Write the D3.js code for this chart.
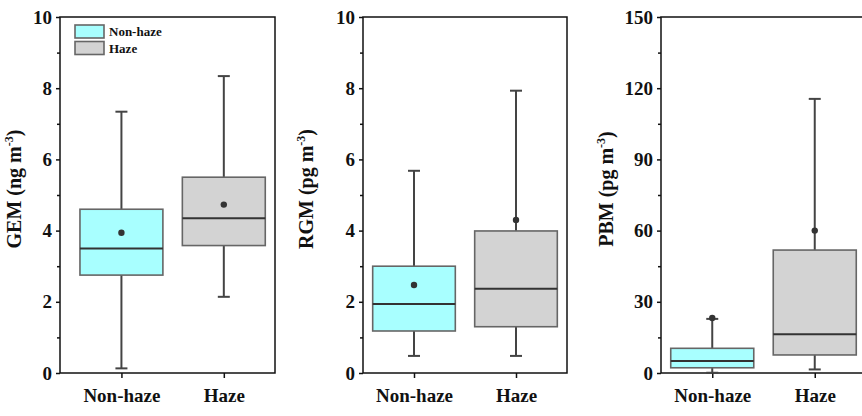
<!DOCTYPE html>
<html>
<head>
<meta charset="utf-8">
<script src="https://cdn.jsdelivr.net/npm/d3@7"></script>
<style>
  body { margin: 0; background: #fff; }
  svg text { font-family: "Liberation Serif", "Times New Roman", serif; font-weight: bold; fill: #111; }
</style>
</head>
<body>
<svg width="862" height="416"></svg>
<script>
// ---- data ----
var categories = ["Non-haze", "Haze"];
var species = ["GEM", "RGM", "PBM"];
var units = ["ng m", "pg m", "pg m"];
var yMax = [10, 10, 150];
var yStep = [2, 2, 30];

// per panel: [Non-haze, Haze]
var whiskerLow = [[0.13, 2.14], [0.48, 0.48], [0.1, 1.5]];
var q1 = [[2.75, 3.58], [1.18, 1.30], [2.2, 7.6]];
var median = [[3.5, 4.35], [1.94, 2.37], [5.1, 16.3]];
var q3 = [[4.6, 5.5], [3.0, 3.99], [10.4, 51.8]];
var whiskerHigh = [[7.34, 8.34], [5.68, 7.93], [22.8, 115.5]];
var mean = [[3.94, 4.73], [2.47, 4.30], [23.2, 60]];

var fills = ["#a8ffff", "#d3d3d3"];

// ---- layout ----
var plotTop = 17, plotBottom = 373;
var panels = [
    {left: 60, width: 215, x0: 0.4, titleX: 21},
    {left: 363, width: 204, x0: 0.5, titleX: 313},
    {left: 661, width: 205, x0: 0.5, titleX: 613}
];

var svg = d3.select("svg");

function draw_panel(p, i) {
    var g = svg.append("g").attr("transform", "translate(" + p.left + ",0)");

    var x = d3.scaleLinear().domain([p.x0, 2.5]).range([0, p.width]);
    var y = d3.scaleLinear().domain([0, yMax[i]]).range([plotBottom, plotTop]);

    var majors = d3.range(0, yMax[i] + 0.001, yStep[i]);
    var minors = d3.range(yStep[i] / 2, yMax[i], yStep[i]);

    // frame
    g.append("rect")
        .attr("x", 0).attr("y", plotTop)
        .attr("width", p.width).attr("height", plotBottom - plotTop)
        .attr("fill", "none").attr("stroke", "#111").attr("stroke-width", 1.5);

    // y axis
    var yAxis = d3.axisLeft(y).tickValues(majors).tickSize(4).tickPadding(4)
        .tickFormat(d3.format("d"));
    var ya = g.append("g").call(yAxis);
    ya.select(".domain").remove();
    ya.selectAll("line").attr("stroke", "#111").attr("stroke-width", 1.5);
    ya.selectAll("text").attr("font-size", 19).attr("fill", "#111")
        .style("font-family", "Liberation Serif").style("font-weight", "bold");

    var ym = g.append("g").call(d3.axisLeft(y).tickValues(minors).tickSize(3).tickFormat(""));
    ym.select(".domain").remove();
    ym.selectAll("line").attr("stroke", "#111").attr("stroke-width", 1.5);

    // x axis
    var xa = g.append("g").attr("transform", "translate(0," + plotBottom + ")")
        .call(d3.axisBottom(x).tickValues([1, 2]).tickSize(5).tickPadding(11)
            .tickFormat(function(d) { return categories[d - 1]; }));
    xa.select(".domain").remove();
    xa.selectAll("line").attr("stroke", "#111").attr("stroke-width", 1.5);
    xa.selectAll("text").attr("font-size", 19).attr("fill", "#111")
        .style("font-family", "Liberation Serif").style("font-weight", "bold");

    // boxes
    var boxes = categories.map(function(c, k) {
        return {k: k + 1, lo: whiskerLow[i][k], q1: q1[i][k], med: median[i][k],
                q3: q3[i][k], hi: whiskerHigh[i][k], mean: mean[i][k], fill: fills[k]};
    });
    var bw = (x(2) - x(1)) * 0.81;
    var cap = 12;

    var b = g.selectAll(".box").data(boxes).enter().append("g").attr("class", "box");

    b.append("line")
        .attr("x1", function(d) { return x(d.k); })
        .attr("x2", function(d) { return x(d.k); })
        .attr("y1", function(d) { return y(d.lo); })
        .attr("y2", function(d) { return y(d.hi); })
        .attr("stroke", "#444").attr("stroke-width", 2);
    ["lo", "hi"].forEach(function(key) {
        b.append("line")
            .attr("x1", function(d) { return x(d.k) - cap / 2; })
            .attr("x2", function(d) { return x(d.k) + cap / 2; })
            .attr("y1", function(d) { return y(d[key]); })
            .attr("y2", function(d) { return y(d[key]); })
            .attr("stroke", "#444").attr("stroke-width", 2);
    });
    b.append("rect")
        .attr("x", function(d) { return x(d.k) - bw / 2; })
        .attr("y", function(d) { return y(d.q3); })
        .attr("width", bw)
        .attr("height", function(d) { return y(d.q1) - y(d.q3); })
        .attr("fill", function(d) { return d.fill; })
        .attr("stroke", "#666").attr("stroke-width", 1.6);
    b.append("line")
        .attr("x1", function(d) { return x(d.k) - bw / 2; })
        .attr("x2", function(d) { return x(d.k) + bw / 2; })
        .attr("y1", function(d) { return y(d.med); })
        .attr("y2", function(d) { return y(d.med); })
        .attr("stroke", "#333").attr("stroke-width", 2);
    b.append("circle")
        .attr("cx", function(d) { return x(d.k); })
        .attr("cy", function(d) { return y(d.mean); })
        .attr("r", 3.2).attr("fill", "#333");

    // y title
    var t = svg.append("text")
        .attr("transform", "translate(" + p.titleX + "," + 189 + ") rotate(-90)")
        .attr("text-anchor", "middle")
        .attr("font-size", 20);
    t.append("tspan").text(species[i] + " (" + units[i]);
    t.append("tspan").attr("font-size", 12).attr("dy", -8).text("-3");
    t.append("tspan").attr("dy", 8).text(")");

    return g;
}

var g0 = null;
panels.forEach(function(p, i) {
    var g = draw_panel(p, i);
    if (i == 0) g0 = g;
});

// legend in first panel
var lg = g0.append("g").attr("transform", "translate(15,25)");
categories.forEach(function(c, k) {
    lg.append("rect").attr("x", 0).attr("y", k * 16.5)
        .attr("width", 29).attr("height", 13)
        .attr("fill", fills[k]).attr("stroke", "#666").attr("stroke-width", 1.6);
    lg.append("text").attr("x", 34).attr("y", k * 16.5 + 11)
        .attr("font-size", 13).text(c);
});
</script>
</body>
</html>
